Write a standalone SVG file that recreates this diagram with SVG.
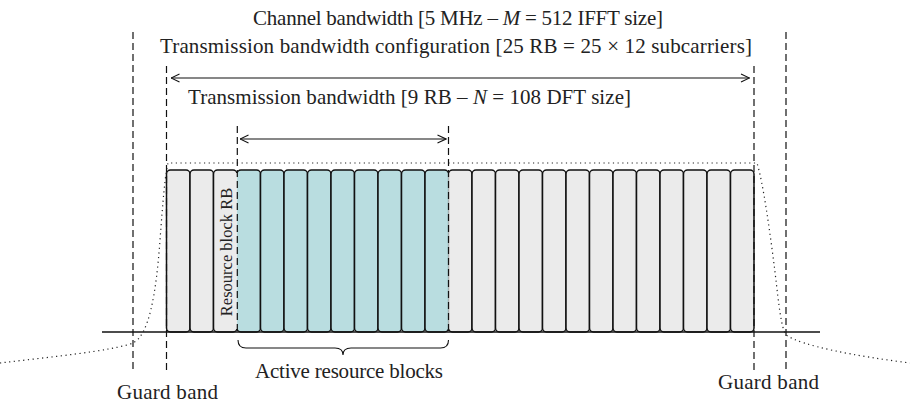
<svg xmlns="http://www.w3.org/2000/svg" width="910" height="404" viewBox="0 0 910 404">
  <style>
    .lbl { font-family: "Liberation Serif", "Times New Roman", serif; font-size: 21px; fill: #222; }
    .rb { font-family: "Liberation Serif", "Times New Roman", serif; font-size: 16.5px; fill: #222; }
    .blk { stroke: #111; stroke-width: 1.5; }
    .gray { fill: #ebebeb; }
    .teal { fill: #b9dde0; }
    .dash { stroke: #111; stroke-width: 1.2; stroke-dasharray: 7 4; fill: none; }
    .dots { stroke: #222; stroke-width: 1.2; stroke-dasharray: 1.2 3.5; fill: none; }
    .arr { stroke: #111; stroke-width: 1.1; fill: none; }
  </style>
  <defs>
    <marker id="head" viewBox="0 0 10 10" refX="9.5" refY="5" markerWidth="10" markerHeight="10" markerUnits="userSpaceOnUse" orient="auto-start-reverse">
      <path d="M1,1 L9.5,5 L1,9" fill="none" stroke="#111" stroke-width="1.1"/>
    </marker>
  </defs>
  <rect width="910" height="404" fill="#fff"/>

  <!-- headings -->
  <text class="lbl" x="458" y="25" text-anchor="middle" textLength="410">Channel bandwidth [5 MHz – <tspan font-style="italic">M</tspan> = 512 IFFT size]</text>
  <text class="lbl" x="456" y="53" text-anchor="middle" textLength="592">Transmission bandwidth configuration [25 RB = 25 × 12 subcarriers]</text>
  <text class="lbl" x="409.5" y="104" text-anchor="middle" textLength="443">Transmission bandwidth [9 RB – <tspan font-style="italic">N</tspan> = 108 DFT size]</text>

  <!-- resource blocks -->
  <g id="blocks">
    <g id="rb-lead" class="gray">
      <rect class="blk" x="166.5" y="170" width="23.5" height="162" rx="4"/>
      <rect class="blk" x="190" y="170" width="23.5" height="162" rx="4"/>
      <rect class="blk" x="213.5" y="170" width="23.5" height="162" rx="4"/>
    </g>
    <g id="rb-active" class="teal">
      <rect class="blk" x="237" y="170" width="23.5" height="162" rx="4"/>
      <rect class="blk" x="260.5" y="170" width="23.5" height="162" rx="4"/>
      <rect class="blk" x="284" y="170" width="23.5" height="162" rx="4"/>
      <rect class="blk" x="307.5" y="170" width="23.5" height="162" rx="4"/>
      <rect class="blk" x="331" y="170" width="23.5" height="162" rx="4"/>
      <rect class="blk" x="354.5" y="170" width="23.5" height="162" rx="4"/>
      <rect class="blk" x="378" y="170" width="23.5" height="162" rx="4"/>
      <rect class="blk" x="401.5" y="170" width="23.5" height="162" rx="4"/>
      <rect class="blk" x="425" y="170" width="23.5" height="162" rx="4"/>
    </g>
    <g id="rb-trail" class="gray">
      <rect class="blk" x="448.5" y="170" width="23.5" height="162" rx="4"/>
      <rect class="blk" x="472" y="170" width="23.5" height="162" rx="4"/>
      <rect class="blk" x="495.5" y="170" width="23.5" height="162" rx="4"/>
      <rect class="blk" x="519" y="170" width="23.5" height="162" rx="4"/>
      <rect class="blk" x="542.5" y="170" width="23.5" height="162" rx="4"/>
      <rect class="blk" x="566" y="170" width="23.5" height="162" rx="4"/>
      <rect class="blk" x="589.5" y="170" width="23.5" height="162" rx="4"/>
      <rect class="blk" x="613" y="170" width="23.5" height="162" rx="4"/>
      <rect class="blk" x="636.5" y="170" width="23.5" height="162" rx="4"/>
      <rect class="blk" x="660" y="170" width="23.5" height="162" rx="4"/>
      <rect class="blk" x="683.5" y="170" width="23.5" height="162" rx="4"/>
      <rect class="blk" x="707" y="170" width="23.5" height="162" rx="4"/>
      <rect class="blk" x="730.5" y="170" width="23.5" height="162" rx="4"/>
    </g>
    <!-- open seams where the active range begins and ends -->
    <rect class="gray" x="235.8" y="173" width="1.2" height="156"/>
    <rect class="teal" x="237" y="173" width="1.4" height="156"/>
    <rect class="teal" x="447.1" y="173" width="1.4" height="156"/>
    <rect class="gray" x="448.5" y="173" width="1.2" height="156"/>
    <text class="rb" transform="translate(231.5,252) rotate(-90)" text-anchor="middle">Resource block RB</text>
  </g>

  <!-- axis, spectrum mask and guides -->
  <g id="connectors">
    <line x1="102" y1="332" x2="820" y2="332" stroke="#111" stroke-width="1.3"/>
    <path class="dots" d="M0,363 C50,357 112,351 133,343 C149,335 156,295 160,240 C163,200 165,175 168,163 L757,163 C763,182 770,232 775,272 C779,306 781,327 786,335 C802,346 855,356 910,363"/>
    <line class="dash" x1="133" y1="32" x2="133" y2="370"/>
    <line class="dash" x1="166.5" y1="66" x2="166.5" y2="370"/>
    <line class="dash" x1="754" y1="66" x2="754" y2="370"/>
    <line class="dash" x1="786" y1="32" x2="786" y2="370"/>
    <line class="dash" x1="237.3" y1="126" x2="237.3" y2="332"/>
    <line class="dash" x1="448.5" y1="126" x2="448.5" y2="332"/>
    <line class="arr" x1="171" y1="78" x2="749.5" y2="78" marker-start="url(#head)" marker-end="url(#head)"/>
    <line class="arr" x1="240" y1="139" x2="446" y2="139" marker-start="url(#head)" marker-end="url(#head)"/>
    <path class="arr" d="M238,340 Q238,348 246,348 L335,348 Q343,348 343,355 Q343,348 351,348 L440.5,348 Q448.5,348 448.5,340" stroke-width="1.3"/>
  </g>

  <!-- lower labels -->
  <text class="lbl" x="349" y="378" text-anchor="middle" textLength="188">Active resource blocks</text>
  <text class="lbl" x="117" y="399" textLength="101">Guard band</text>
  <text class="lbl" x="718" y="389" textLength="101">Guard band</text>
</svg>
